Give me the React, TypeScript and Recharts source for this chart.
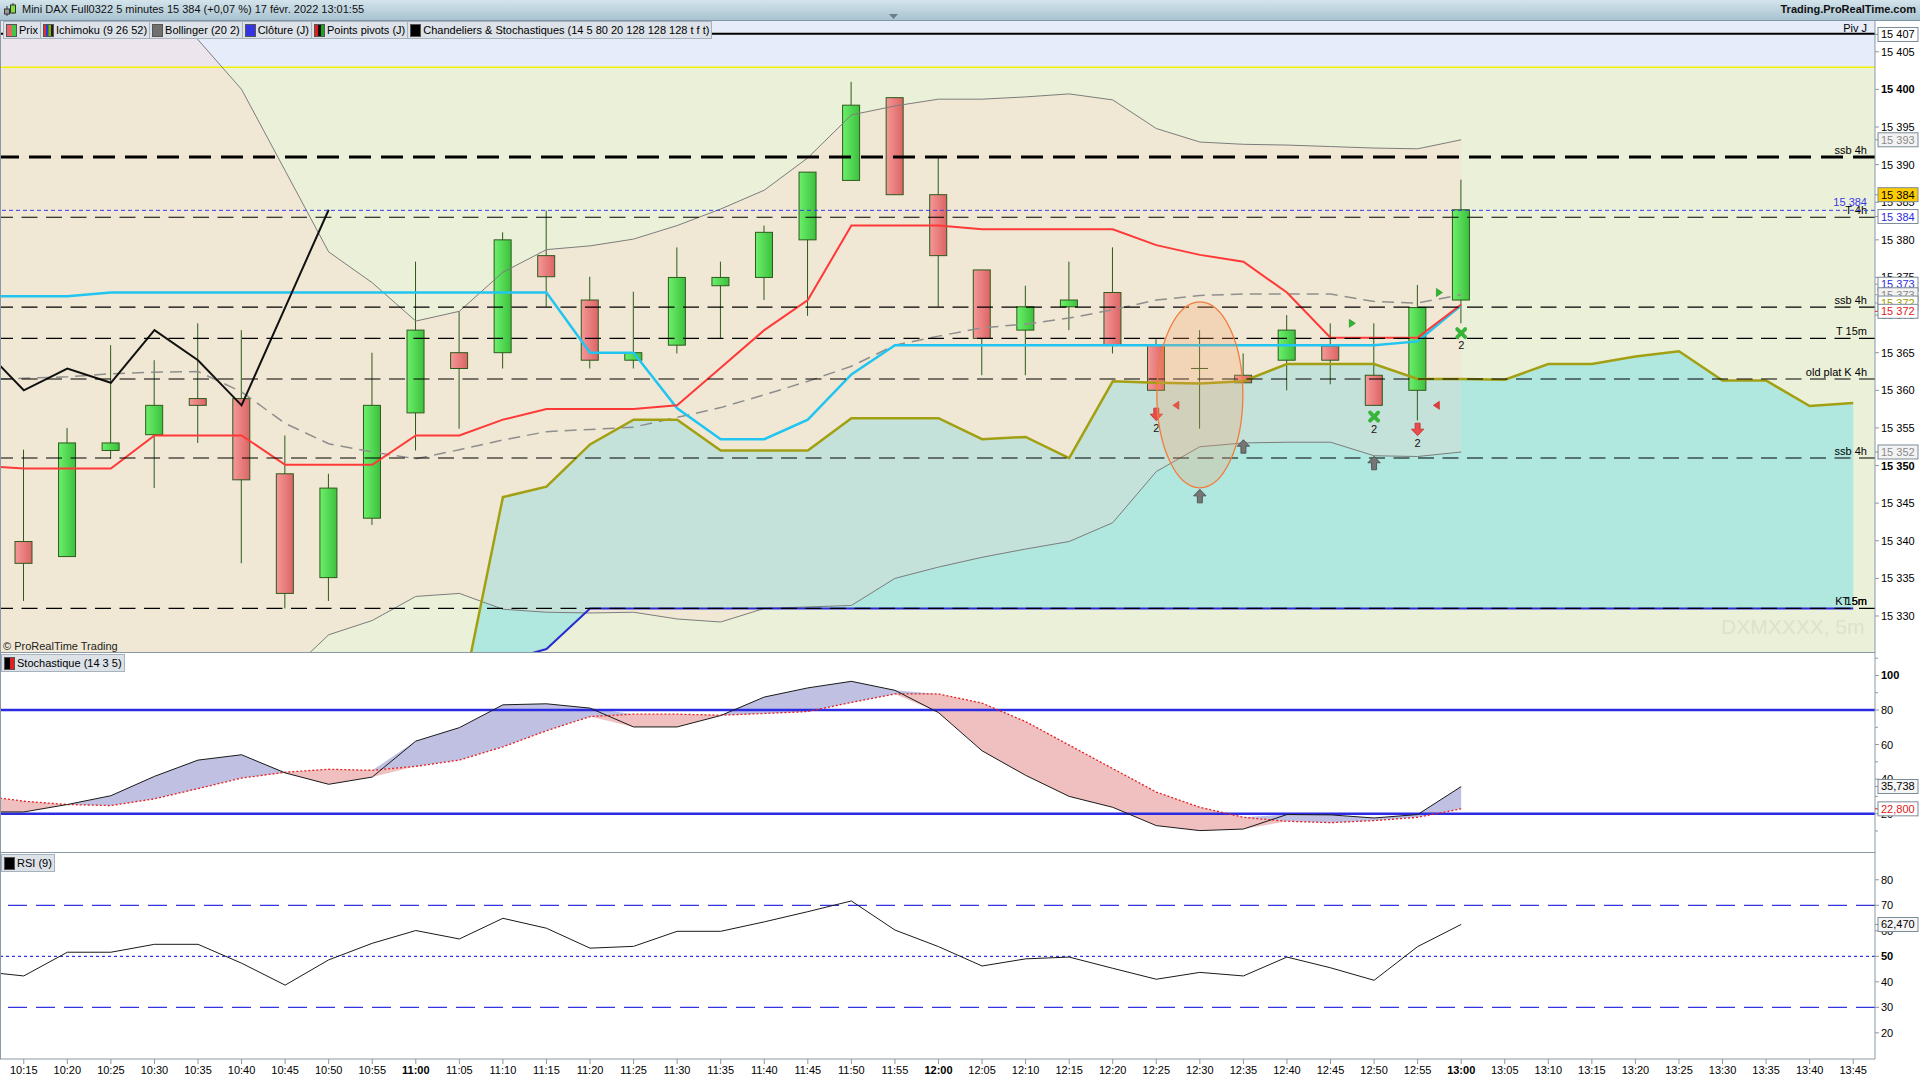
import React from "react";
import {
  ComposedChart,
  Bar,
  Line,
  Area,
  XAxis,
  YAxis,
  ReferenceLine,
  ReferenceArea,
} from "recharts";

const FONT = '"Liberation Sans", Arial, sans-serif';
const AXIS = "#8a99a5";

// 44 five-minute slots; 10:10 is the bar cut by the left edge
const times = [
  "10:10", "10:15", "10:20", "10:25", "10:30", "10:35", "10:40", "10:45", "10:50", "10:55",
  "11:00", "11:05", "11:10", "11:15", "11:20", "11:25", "11:30", "11:35", "11:40", "11:45",
  "11:50", "11:55", "12:00", "12:05", "12:10", "12:15", "12:20", "12:25", "12:30", "12:35",
  "12:40", "12:45", "12:50", "12:55", "13:00", "13:05", "13:10", "13:15", "13:20", "13:25",
  "13:30", "13:35", "13:40", "13:45",
];

// candles 10:15 .. 13:00
const opens = [null,
  15339.9, 15337.9, 15352.0, 15354.1, 15358.9, 15358.9, 15348.9, 15335.1, 15343.0, 15357.0,
  15365.0, 15365.0, 15377.9, 15372.0, 15364.0, 15366.0, 15373.9, 15375.0, 15380.0, 15387.9,
  15398.9, 15386.0, 15376.0, 15368.0, 15371.1, 15373.0, 15366.0, 15362.9, 15362.0, 15364.0,
  15365.9, 15362.0, 15360.0, 15372.0];
const highs = [null,
  15352.1, 15355.0, 15366.0, 15364.0, 15368.9, 15368.0, 15354.0, 15348.9, 15365.0, 15377.1,
  15370.5, 15381.0, 15383.9, 15375.1, 15373.1, 15379.0, 15377.1, 15381.9, 15389.0, 15401.0,
  15398.9, 15391.0, 15376.0, 15373.9, 15377.1, 15379.0, 15366.9, 15368.0, 15364.9, 15370.0,
  15368.9, 15368.9, 15374.0, 15388.0];
const lows = [null,
  15332.0, 15337.9, 15350.9, 15347.0, 15353.0, 15337.0, 15331.0, 15332.0, 15342.1, 15352.0,
  15354.9, 15362.9, 15371.1, 15362.9, 15362.9, 15364.9, 15366.9, 15372.0, 15369.9, 15387.9,
  15386.0, 15371.1, 15362.0, 15362.0, 15368.0, 15364.9, 15360.0, 15354.9, 15361.0, 15360.0,
  15360.8, 15358.0, 15356.0, 15368.9];
const closes = [null,
  15337.0, 15353.0, 15353.0, 15358.0, 15358.0, 15348.1, 15333.0, 15347.0, 15358.0, 15368.0,
  15362.9, 15380.0, 15375.1, 15364.0, 15365.0, 15375.0, 15375.0, 15381.0, 15389.0, 15397.9,
  15386.0, 15377.9, 15366.9, 15371.1, 15372.0, 15366.0, 15360.0, 15362.9, 15361.0, 15368.0,
  15364.0, 15358.0, 15371.0, 15384.0];

// Ichimoku
const tenkan = [
  15350.0, 15349.6, 15349.6, 15349.6, 15354.0, 15354.0, 15354.0, 15350.1, 15350.1, 15350.1,
  15354.0, 15354.0, 15356.1, 15357.5, 15357.5, 15357.5, 15358.0, 15363.0, 15368.0, 15372.0,
  15381.9, 15381.9, 15381.9, 15381.4, 15381.4, 15381.4, 15381.4, 15379.3, 15378.0, 15377.1,
  15373.0, 15367.0, 15367.0, 15367.0, 15371.4];
const kijun = [
  15372.5, 15372.5, 15372.5, 15373.0, 15373.0, 15373.0, 15373.0, 15373.0, 15373.0, 15373.0,
  15373.0, 15373.0, 15373.0, 15373.0, 15365.0, 15365.0, 15357.6, 15353.5, 15353.5, 15356.1,
  15362.1, 15366.0, 15366.0, 15366.0, 15366.0, 15366.0, 15366.0, 15366.0, 15366.0, 15366.0,
  15366.0, 15366.0, 15366.0, 15366.5, 15371.3];
const chikou = [15366.0, 15360.0, 15362.9, 15361.0, 15368.0, 15364.0, 15358.0, 15371.0, 15384.0];
const senkouA = [
  null, null, null, null, null, null, null, null, null, null,
  null, 15317.5, 15345.8, 15347.2, 15352.8, 15356.1, 15356.1, 15352.0, 15352.0, 15352.0,
  15356.3, 15356.3, 15356.3, 15353.5, 15353.8, 15351.0, 15361.2, 15361.0, 15360.9, 15361.2,
  15363.5, 15363.5, 15363.5, 15361.5, 15361.5, 15361.4, 15363.5, 15363.5, 15364.5, 15365.2,
  15361.3, 15361.3, 15357.9, 15358.3];
const senkouB = [
  null, null, null, null, null, null, null, null, null, null,
  null, 15322.5, 15324.0, 15325.6, 15331.0, 15331.0, 15331.0, 15331.0, 15331.0, 15331.0,
  15331.0, 15331.0, 15331.0, 15331.0, 15331.0, 15331.0, 15331.0, 15331.0, 15331.0, 15331.0,
  15331.0, 15331.0, 15331.0, 15331.0, 15331.0, 15331.0, 15331.0, 15331.0, 15331.0, 15331.0,
  15331.0, 15331.0, 15331.0, 15331.0];

// Bollinger (20 2)
const bbUpper = [
  15438.0, 15432.0, 15426.0, 15419.5, 15413.0, 15406.6, 15400.0, 15389.2, 15378.4, 15374.3,
  15369.2, 15370.5, 15375.7, 15378.7, 15379.2, 15380.1, 15381.9, 15384.1, 15386.6, 15390.9,
  15396.6, 15397.8, 15398.7, 15398.7, 15399.0, 15399.4, 15398.6, 15394.8, 15393.0, 15392.7,
  15392.6, 15392.4, 15392.2, 15392.1, 15393.3];
const bbMiddle = [
  15361.4, 15361.6, 15361.8, 15362.2, 15362.4, 15362.5, 15359.8, 15355.6, 15352.9, 15351.8,
  15350.9, 15352.1, 15353.4, 15354.5, 15354.8, 15355.1, 15356.4, 15357.7, 15359.4, 15361.2,
  15363.2, 15366.0, 15367.2, 15368.3, 15368.8, 15369.6, 15370.7, 15372.0, 15372.6, 15372.8,
  15372.8, 15372.8, 15371.8, 15371.6, 15372.7];
const bbLower = [
  15284.8, 15291.1, 15297.6, 15305.0, 15311.8, 15318.4, 15319.7, 15322.0, 15327.5, 15329.4,
  15332.6, 15333.0, 15330.9, 15330.5, 15330.4, 15330.5, 15329.6, 15329.2, 15331.0, 15331.2,
  15331.4, 15335.0, 15336.5, 15337.8, 15338.9, 15339.9, 15342.4, 15349.2, 15352.5, 15353.0,
  15353.1, 15353.1, 15351.3, 15351.2, 15351.8];

// Stochastique (14 3 5) and RSI (9)
const stochK = [
  21.0, 21.0, 25.3, 30.4, 41.6, 51.0, 54.1, 43.6, 37.0, 41.2,
  62.0, 69.8, 83.0, 83.6, 81.1, 70.2, 70.2, 76.8, 87.5, 92.8,
  96.6, 91.4, 78.5, 56.4, 42.2, 30.0, 23.7, 13.1, 10.2, 11.1,
  19.5, 19.3, 17.5, 19.5, 35.7];
const stochD = [
  30.5, 27.2, 25.3, 24.7, 28.6, 34.5, 40.6, 44.0, 45.7, 45.1,
  47.4, 51.0, 58.7, 68.0, 76.2, 77.6, 77.6, 77.0, 78.0, 79.1,
  84.4, 89.3, 89.3, 84.0, 73.3, 59.7, 46.1, 32.5, 23.7, 17.9,
  15.6, 14.8, 16.0, 17.9, 22.8];
const rsi = [
  44.1, 42.3, 51.6, 51.6, 54.7, 54.7, 47.3, 38.7, 48.6, 55.1,
  60.1, 56.8, 64.9, 61.0, 53.2, 53.9, 59.8, 59.8, 63.5, 67.5,
  71.7, 60.3, 53.8, 46.2, 49.0, 49.7, 45.3, 41.0, 43.7, 42.3,
  49.7, 45.5, 40.6, 53.8, 62.5];

// signals drawn on the price panel: [time, price, band shift]
const sellArrows = [["12:25", 15356.7], ["12:55", 15354.7]];
const buyCrosses = [["12:50", 15356.5], ["13:00", 15367.6]];
const supportArrows = [["12:30", 15345.9], ["12:35", 15352.5], ["12:50", 15350.3]];
const redFlags = [["12:25", 15358.0, 0.45], ["12:55", 15358.0, 0.43]];
const greenFlags = [["12:45", 15368.9, 0.5], ["12:55", 15373.0, 0.5]];
const focusZone = [["12:30", 15359.4]];

// horizontal levels
const levels = [
  { y: 15407.4, label: "Piv J", dash: undefined, width: 2 },
  { y: 15391.0, label: "ssb 4h", dash: "22 10", width: 3 },
  { y: 15383.0, label: "T 4h", dash: "16 8.5", width: 1.2 },
  { y: 15371.05, label: "ssb 4h", dash: "16 8.5", width: 1.2 },
  { y: 15366.9, label: "T 15m", dash: "16 8.5", width: 1.2 },
  { y: 15361.5, label: "old plat K 4h", dash: "16 8.5", width: 1.2 },
  { y: 15351.0, label: "ssb 4h", dash: "16 8.5", width: 1.2 },
  { y: 15331.0, label: "K 15m", dash: "16 8.5", width: 1.2 },
];
const PIV_ZONE_LOW = 15402.93;
const LAST_CLOSE = 15383.92;

const priceTicks = [15330, 15335, 15340, 15345, 15350, 15355, 15360, 15365, 15370, 15375, 15380, 15385, 15390, 15395, 15400, 15405];
const priceBoxes = [
  { at: 15407.3, text: "15 407", color: "#000", bg: "#fff" },
  { at: 15393.3, text: "15 393", color: "#8a8a8a", bg: "#f3f3f3" },
  { at: 15386.0, text: "15 384", color: "#000", bg: "#ffcc00" },
  { at: 15383.1, text: "15 384", color: "#2b2be0", bg: "#fff" },
  { at: 15374.1, text: "15 373", color: "#2b2be0", bg: "#fff" },
  { at: 15372.7, text: "15 373", color: "#8a8a8a", bg: "#f3f3f3" },
  { at: 15371.6, text: "15 372", color: "#a0a000", bg: "#fff" },
  { at: 15370.5, text: "15 372", color: "#e02020", bg: "#fff" },
  { at: 15351.8, text: "15 352", color: "#8a8a8a", bg: "#f3f3f3" },
];
const stochTicks = [10, 20, 30, 40, 50, 60, 70, 80, 90, 100, 110];
const stochBoxes = [
  { at: 35.738, text: "35,738", color: "#000", bg: "#f6f6f6" },
  { at: 22.8, text: "22,800", color: "#e02020", bg: "#fff" },
];
const rsiTicks = [20, 30, 40, 50, 60, 70, 80];
const rsiBoxes = [{ at: 62.47, text: "62,470", color: "#000", bg: "#f6f6f6" }];

const legendTabs = [
  { label: "Prix", colors: ["#e86464", "#46c446"] },
  { label: "Ichimoku (9 26 52)", colors: ["#e03030", "#2040e0", "#20a020", "#a0a010", "#202020"] },
  { label: "Bollinger (20 2)", colors: ["#707070"] },
  { label: "Clôture (J)", colors: ["#3434e0"] },
  { label: "Points pivots (J)", colors: ["#e02020", "#101010", "#20a020"] },
  { label: "Chandeliers & Stochastiques (14 5 80 20 128 128 128 t f t)", colors: ["#000"] },
];

// layout
const PLOT_RIGHT = 1875;
const BAND = (PLOT_RIGHT - 2) / 43;
const ML = 2 - BAND;
const AXIS_W = 1920 - PLOT_RIGHT;
const PRICE_DOMAIN = [15325.08, 15409.09];
const STOCH_DOMAIN = [-2.76, 113.0];
const RSI_DOMAIN = [9.74, 90.5];

const pick = (arr: any[], i: number) => (i < arr.length ? arr[i] : null);
const find = (list: any[], t: string) => list.find((m) => m[0] === t);

const mainRows = times.map((t, i) => {
  const o = pick(opens, i), h = pick(highs, i), l = pick(lows, i), c = pick(closes, i);
  const a = pick(senkouA, i), b = pick(senkouB, i);
  const up = pick(bbUpper, i), lo = pick(bbLower, i);
  const sell = find(sellArrows, t), cross = find(buyCrosses, t), sup = find(supportArrows, t);
  const rf = find(redFlags, t), gf = find(greenFlags, t), fz = find(focusZone, t);
  return {
    t, o, h, l, c,
    candle: o == null ? null : [l, h],
    tenkan: pick(tenkan, i),
    kijun: pick(kijun, i),
    chikou: pick(chikou, i),
    spanA: a,
    spanB: b,
    cloud: a != null && b != null ? [b, a] : null,
    bbUp: up,
    bbLow: lo,
    bbMid: pick(bbMiddle, i),
    bands: up != null ? [lo, up] : null,
    sell: sell ? sell[1] : null,
    cross: cross ? cross[1] : null,
    sup: sup ? sup[1] : null,
    redFlag: rf ? rf[1] : null,
    redShift: rf ? rf[2] : 0,
    greenFlag: gf ? gf[1] : null,
    greenShift: gf ? gf[2] : 0,
    focus: fz ? fz[1] : null,
  };
});

const stochRows = times.map((t, i) => {
  const k = pick(stochK, i), d = pick(stochD, i);
  if (k == null || d == null) return { t };
  return { t, k, d, bull: [d, Math.max(k, d)], bear: [Math.min(k, d), d] };
});

const rsiRows = times.map((t, i) => ({ t, rsi: pick(rsi, i) }));

const fmtPrice = (v: number) => `${Math.floor(v / 1000)} ${String(v % 1000).padStart(3, "0")}`;

function Candle(props: any) {
  const { x, y, width, height, payload } = props;
  if (!payload || payload.o == null) return null;
  const { o, h, l, c } = payload;
  const top = Math.min(y, y + height);
  const bottom = Math.max(y, y + height);
  const toY = (v: number) => top + ((h - v) / (h - l)) * (bottom - top);
  const cx = x + width / 2;
  const w = 17;
  const bTop = toY(Math.max(o, c));
  const bBot = toY(Math.min(o, c));
  const doji = Math.abs(o - c) < 0.05;
  const stroke = "#2c5b1c";
  return (
    <g>
      <line x1={cx} x2={cx} y1={top} y2={bottom} stroke={stroke} strokeWidth={1} />
      {doji ? (
        <line x1={cx - w / 2} x2={cx + w / 2} y1={bTop} y2={bTop} stroke={stroke} strokeWidth={1} />
      ) : (
        <rect
          x={cx - w / 2}
          y={bTop}
          width={w}
          height={Math.max(1, bBot - bTop)}
          fill={c > o ? "url(#candleUp)" : "url(#candleDown)"}
          stroke={stroke}
          strokeWidth={1}
        />
      )}
    </g>
  );
}

const marker = (draw: (cx: number, cy: number, p: any) => React.ReactNode) => (props: any) => {
  const { cx, cy, value, index, payload } = props;
  if (value == null || cx == null || cy == null || Number.isNaN(cy)) return <g key={`m${index}`} />;
  return <g key={`m${index}`}>{draw(cx, cy, payload)}</g>;
};

const drawSell = (cx: number, cy: number) => (
  <>
    <path
      d={`M${cx - 2.5},${cy - 7} h5 v6 h3.7 l-6.2,6.5 l-6.2,-6.5 h3.7 z`}
      fill="#ea4b4b"
      stroke="#bf2f2f"
      strokeWidth={0.8}
    />
    <text x={cx} y={cy + 17} fontSize={11} textAnchor="middle" fontFamily={FONT} fill="#111">2</text>
  </>
);
const drawCross = (cx: number, cy: number) => (
  <>
    <line x1={cx - 4} y1={cy - 4} x2={cx + 4} y2={cy + 4} stroke="#38b438" strokeWidth={3.8} strokeLinecap="round" />
    <line x1={cx - 4} y1={cy + 4} x2={cx + 4} y2={cy - 4} stroke="#38b438" strokeWidth={3.8} strokeLinecap="round" />
    <text x={cx} y={cy + 16} fontSize={11} textAnchor="middle" fontFamily={FONT} fill="#111">2</text>
  </>
);
const drawSupport = (cx: number, cy: number) => (
  <path
    d={`M${cx},${cy - 7} l6.2,6.5 h-3.7 v7 h-5 v-7 h-3.7 z`}
    fill="#767676"
    stroke="#454545"
    strokeWidth={0.8}
  />
);
const drawRedFlag = (cx: number, cy: number, p: any) => {
  const x = cx + p.redShift * BAND;
  return <path d={`M${x + 3},${cy - 4} L${x - 3},${cy} L${x + 3},${cy + 4} z`} fill="#e33a3a" stroke="#c02424" strokeWidth={0.6} />;
};
const drawGreenFlag = (cx: number, cy: number, p: any) => {
  const x = cx + p.greenShift * BAND;
  return <path d={`M${x - 3},${cy - 4} L${x + 3},${cy} L${x - 3},${cy + 4} z`} fill="#2cb82c" stroke="#1c8a1c" strokeWidth={0.6} />;
};
const drawFocus = (cx: number, cy: number) => (
  <ellipse cx={cx} cy={cy} rx={43} ry={93} fill="#f7a066" fillOpacity={0.26} stroke="#f27c3c" strokeWidth={1.3} />
);

const levelLabel = (text: string, color = "#000", dy = -3) => (props: any) => {
  const vb = props.viewBox || {};
  return (
    <text
      x={vb.x + vb.width - 8}
      y={vb.y + dy}
      textAnchor="end"
      fontSize={11}
      fontFamily={FONT}
      fill={color}
    >
      {text}
    </text>
  );
};

const valueBox = (x: number, y: number, b: any) => (
  <g>
    <line x1={x} x2={x + 3} y1={y} y2={y} stroke={b.color === "#e02020" ? "#e02020" : AXIS} />
    <rect x={x + 3} y={y - 7} width={40} height={14} fill={b.bg} stroke="#7b8b97" strokeWidth={1} />
    <text x={x + 6} y={y + 4} fontSize={11} fontFamily={FONT} fill={b.color}>{b.text}</text>
  </g>
);

const makeTick = (boxes: any[], labelled: (v: number) => boolean, bold: number[], fmt: (v: number) => string) => (props: any) => {
  const { x, y, payload } = props;
  const v = payload.value;
  const box = boxes.find((b) => b.at === v);
  if (box) return valueBox(x, y, box);
  const show = labelled(v);
  return (
    <g>
      <line x1={x} x2={x + (show ? 4 : 3)} y1={y} y2={y} stroke={AXIS} />
      {show && (
        <text x={x + 6} y={y + 4} fontSize={11} fontFamily={FONT} fill="#000" fontWeight={bold.includes(v) ? 700 : 400}>
          {fmt(v)}
        </text>
      )}
    </g>
  );
};

const priceTick = makeTick(priceBoxes, () => true, [15350, 15400], fmtPrice);
const stochTick = makeTick(stochBoxes, (v) => v % 20 === 0, [100], (v) => String(v));
const rsiTick = makeTick(rsiBoxes, () => true, [50], (v) => String(v));

const timeTick = (props: any) => {
  const { x, y, payload } = props;
  const v = String(payload.value);
  // the slot cut by the left edge has no readable label
  if (x < 10) return <g />;
  return (
    <text x={x} y={y + 8} textAnchor="middle" fontSize={11} fontFamily={FONT} fill="#000" fontWeight={v.endsWith(":00") ? 700 : 400}>
      {v}
    </text>
  );
};

function PriceChart() {
  return (
    <ComposedChart width={1920} height={632} data={mainRows} margin={{ top: 0, right: 0, bottom: 0, left: ML }}>
      <defs>
        <linearGradient id="candleUp" x1="0" y1="0" x2="1" y2="0">
          <stop offset="0%" stopColor="#6cf06c" />
          <stop offset="100%" stopColor="#3dc03d" />
        </linearGradient>
        <linearGradient id="candleDown" x1="0" y1="0" x2="1" y2="0">
          <stop offset="0%" stopColor="#f59898" />
          <stop offset="100%" stopColor="#dc6464" />
        </linearGradient>
      </defs>
      <XAxis dataKey="t" hide scale="band" />
      <YAxis
        orientation="right"
        width={AXIS_W}
        domain={PRICE_DOMAIN}
        allowDataOverflow
        ticks={[...priceTicks, ...priceBoxes.map((b) => b.at)]}
        interval={0}
        tickSize={0}
        tickMargin={0}
        tickLine={false}
        axisLine={{ stroke: AXIS }}
        tick={priceTick}
      />
      <ReferenceArea y1={PIV_ZONE_LOW} y2={PRICE_DOMAIN[1]} fill="#e6ecfa" fillOpacity={1} stroke="none" ifOverflow="visible" />
      <Area dataKey="cloud" stroke="none" fill="#b0e8e0" fillOpacity={1} isAnimationActive={false} />
      <Area dataKey="bands" stroke="none" fill="#ffd0c8" fillOpacity={0.26} isAnimationActive={false} />
      <ReferenceLine y={PIV_ZONE_LOW} stroke="#f2f200" strokeWidth={1.5} />
      <Line dataKey="bbUp" stroke="#7c7c7c" strokeWidth={1} dot={false} isAnimationActive={false} />
      <Line dataKey="bbLow" stroke="#7c7c7c" strokeWidth={1} dot={false} isAnimationActive={false} />
      <Line dataKey="bbMid" stroke="#8e8e8e" strokeWidth={1.5} strokeDasharray="12 7" dot={false} isAnimationActive={false} />
      <Bar dataKey="candle" barSize={17} shape={(p: any) => <Candle {...p} />} isAnimationActive={false} />
      <Line dataKey="spanB" stroke="#2a2ad0" strokeWidth={2} dot={false} isAnimationActive={false} />
      <Line dataKey="spanA" stroke="#a2a012" strokeWidth={2.5} dot={false} isAnimationActive={false} />
      <Line dataKey="kijun" stroke="#22c4f0" strokeWidth={2.5} dot={false} isAnimationActive={false} />
      <Line dataKey="tenkan" stroke="#ff3838" strokeWidth={2} dot={false} isAnimationActive={false} />
      <Line dataKey="chikou" stroke="#111" strokeWidth={2} dot={false} isAnimationActive={false} />
      {levels.map((lv, i) => (
        <ReferenceLine
          key={`lv${i}`}
          y={lv.y}
          stroke="#000"
          strokeWidth={lv.width}
          strokeDasharray={lv.dash}
          label={levelLabel(lv.label, "#000", i === 0 ? -2 : -3)}
        />
      ))}
      <ReferenceLine y={15331.0} stroke="none" label={levelLabel("T 5m")} />
      <ReferenceLine y={LAST_CLOSE} stroke="#3a3ae6" strokeWidth={1} strokeDasharray="4 3" label={levelLabel("15 384", "#3a3ae6", -4)} />
      <Line dataKey="sup" stroke="none" dot={marker(drawSupport)} isAnimationActive={false} />
      <Line dataKey="sell" stroke="none" dot={marker(drawSell)} isAnimationActive={false} />
      <Line dataKey="cross" stroke="none" dot={marker(drawCross)} isAnimationActive={false} />
      <Line dataKey="redFlag" stroke="none" dot={marker(drawRedFlag)} isAnimationActive={false} />
      <Line dataKey="greenFlag" stroke="none" dot={marker(drawGreenFlag)} isAnimationActive={false} />
      <Line dataKey="focus" stroke="none" dot={marker(drawFocus)} isAnimationActive={false} />
    </ComposedChart>
  );
}

function StochChart() {
  return (
    <ComposedChart width={1920} height={200} data={stochRows} margin={{ top: 0, right: 0, bottom: 0, left: ML }}>
      <XAxis dataKey="t" hide scale="band" />
      <YAxis
        orientation="right"
        width={AXIS_W}
        domain={STOCH_DOMAIN}
        allowDataOverflow
        ticks={[...stochTicks, ...stochBoxes.map((b) => b.at)]}
        interval={0}
        tickSize={0}
        tickMargin={0}
        tickLine={false}
        axisLine={{ stroke: AXIS }}
        tick={stochTick}
      />
      <Area dataKey="bull" stroke="none" fill="#c0c0e2" fillOpacity={1} isAnimationActive={false} />
      <Area dataKey="bear" stroke="none" fill="#f0c0c0" fillOpacity={1} isAnimationActive={false} />
      <ReferenceLine y={80} stroke="#2b2be4" strokeWidth={2.5} />
      <ReferenceLine y={20} stroke="#2b2be4" strokeWidth={2.5} />
      <Line dataKey="d" stroke="#e42020" strokeWidth={1.3} strokeDasharray="2 2" dot={false} isAnimationActive={false} />
      <Line dataKey="k" stroke="#1a1a1a" strokeWidth={1} dot={false} isAnimationActive={false} />
    </ComposedChart>
  );
}

function RsiChart() {
  return (
    <ComposedChart width={1920} height={227} data={rsiRows} margin={{ top: 0, right: 0, bottom: 0, left: ML }}>
      <XAxis
        dataKey="t"
        scale="band"
        height={21}
        interval={0}
        tickSize={5}
        tickMargin={2}
        axisLine={{ stroke: AXIS }}
        tickLine={{ stroke: AXIS }}
        tick={timeTick}
      />
      <YAxis
        orientation="right"
        width={AXIS_W}
        domain={RSI_DOMAIN}
        allowDataOverflow
        ticks={[...rsiTicks, ...rsiBoxes.map((b) => b.at)]}
        interval={0}
        tickSize={0}
        tickMargin={0}
        tickLine={false}
        axisLine={{ stroke: AXIS }}
        tick={rsiTick}
      />
      <ReferenceLine y={70} stroke="#3434e0" strokeWidth={1.3} strokeDasharray="19 9" />
      <ReferenceLine y={30} stroke="#3434e0" strokeWidth={1.3} strokeDasharray="19 9" />
      <ReferenceLine y={50} stroke="#3434e0" strokeWidth={1.2} strokeDasharray="3 3" />
      <Line dataKey="rsi" stroke="#1a1a1a" strokeWidth={1} dot={false} isAnimationActive={false} />
    </ComposedChart>
  );
}

const Swatch = ({ colors }: { colors: string[] }) => (
  <span style={{ display: "inline-flex", width: 9, height: 11, marginRight: 2, border: "1px solid #555" }}>
    {colors.map((c, i) => (
      <span key={i} style={{ flex: 1, background: c }} />
    ))}
  </span>
);

const tabStyle: React.CSSProperties = {
  display: "inline-flex",
  alignItems: "center",
  height: 16,
  padding: "0 2px 0 2px",
  border: "1px solid #a6b2bc",
  background: "#dce2e8",
  marginRight: -1,
  fontSize: 11,
  color: "#000",
  whiteSpace: "nowrap",
};

export default function App() {
  return (
    <div style={{ position: "absolute", left: 0, top: 0, width: 1920, height: 1080, background: "#fff", overflow: "hidden", fontFamily: FONT }}>
      {/* title bar */}
      <div style={{ position: "absolute", left: 0, top: 0, width: 1920, height: 20, background: "linear-gradient(#d4e4ec, #a8c3d0)", borderBottom: "1px solid #7f97a4" }}>
        <svg style={{ position: "absolute", left: 3, top: 3 }} width={14} height={14}>
          <line x1={4} x2={4} y1={3} y2={13} stroke="#333" />
          <rect x={1.5} y={6} width={5} height={5} fill="#9a9a9a" stroke="#333" />
          <line x1={10} x2={10} y1={0} y2={11} stroke="#333" />
          <rect x={7.5} y={2} width={5} height={8} fill="#7ee03a" stroke="#333" />
        </svg>
        <span style={{ position: "absolute", left: 22, top: 3, fontSize: 11, color: "#111" }}>
          Mini DAX Full0322 5 minutes 15 384 (+0,07 %) 17 févr. 2022 13:01:55
        </span>
        <svg style={{ position: "absolute", left: 889, top: 14 }} width={10} height={6}>
          <path d="M0,0 L9,0 L4.5,5 z" fill="#6e7f8a" />
        </svg>
        <span style={{ position: "absolute", right: 4, top: 3, fontSize: 11, fontWeight: 700, color: "#111" }}>
          Trading.ProRealTime.com
        </span>
      </div>

      {/* panel backgrounds */}
      <div style={{ position: "absolute", left: 0, top: 21, width: PLOT_RIGHT, height: 632, background: "#ebf0d8" }} />

      <div style={{ position: "absolute", left: 0, top: 21 }}>
        <PriceChart />
      </div>
      <div style={{ position: "absolute", left: 0, top: 653 }}>
        <StochChart />
      </div>
      <div style={{ position: "absolute", left: 0, top: 853 }}>
        <RsiChart />
      </div>

      {/* panel separators */}
      <div style={{ position: "absolute", left: 0, top: 652, width: PLOT_RIGHT, height: 1, background: AXIS }} />
      <div style={{ position: "absolute", left: 0, top: 852, width: PLOT_RIGHT, height: 1, background: AXIS }} />
      <div style={{ position: "absolute", left: 0, top: 21, width: 1, height: 1038, background: AXIS }} />

      {/* legend tabs */}
      <div style={{ position: "absolute", left: 3, top: 21, display: "flex" }}>
        {legendTabs.map((tab) => (
          <span key={tab.label} style={tabStyle}>
            <Swatch colors={tab.colors} />
            {tab.label}
          </span>
        ))}
      </div>
      <div style={{ position: "absolute", left: 1, top: 654, display: "flex" }}>
        <span style={tabStyle}>
          <Swatch colors={["#000", "#e02020"]} />
          Stochastique (14 3 5)
        </span>
      </div>
      <div style={{ position: "absolute", left: 1, top: 854, display: "flex" }}>
        <span style={tabStyle}>
          <Swatch colors={["#000"]} />
          RSI (9)
        </span>
      </div>

      <div style={{ position: "absolute", left: 3, top: 640, fontSize: 11, color: "#222" }}>© ProRealTime Trading</div>
      <div style={{ position: "absolute", left: 1721, top: 615, fontSize: 21, color: "#dde3cb", whiteSpace: "nowrap" }}>DXMXXXX, 5m</div>
    </div>
  );
}
